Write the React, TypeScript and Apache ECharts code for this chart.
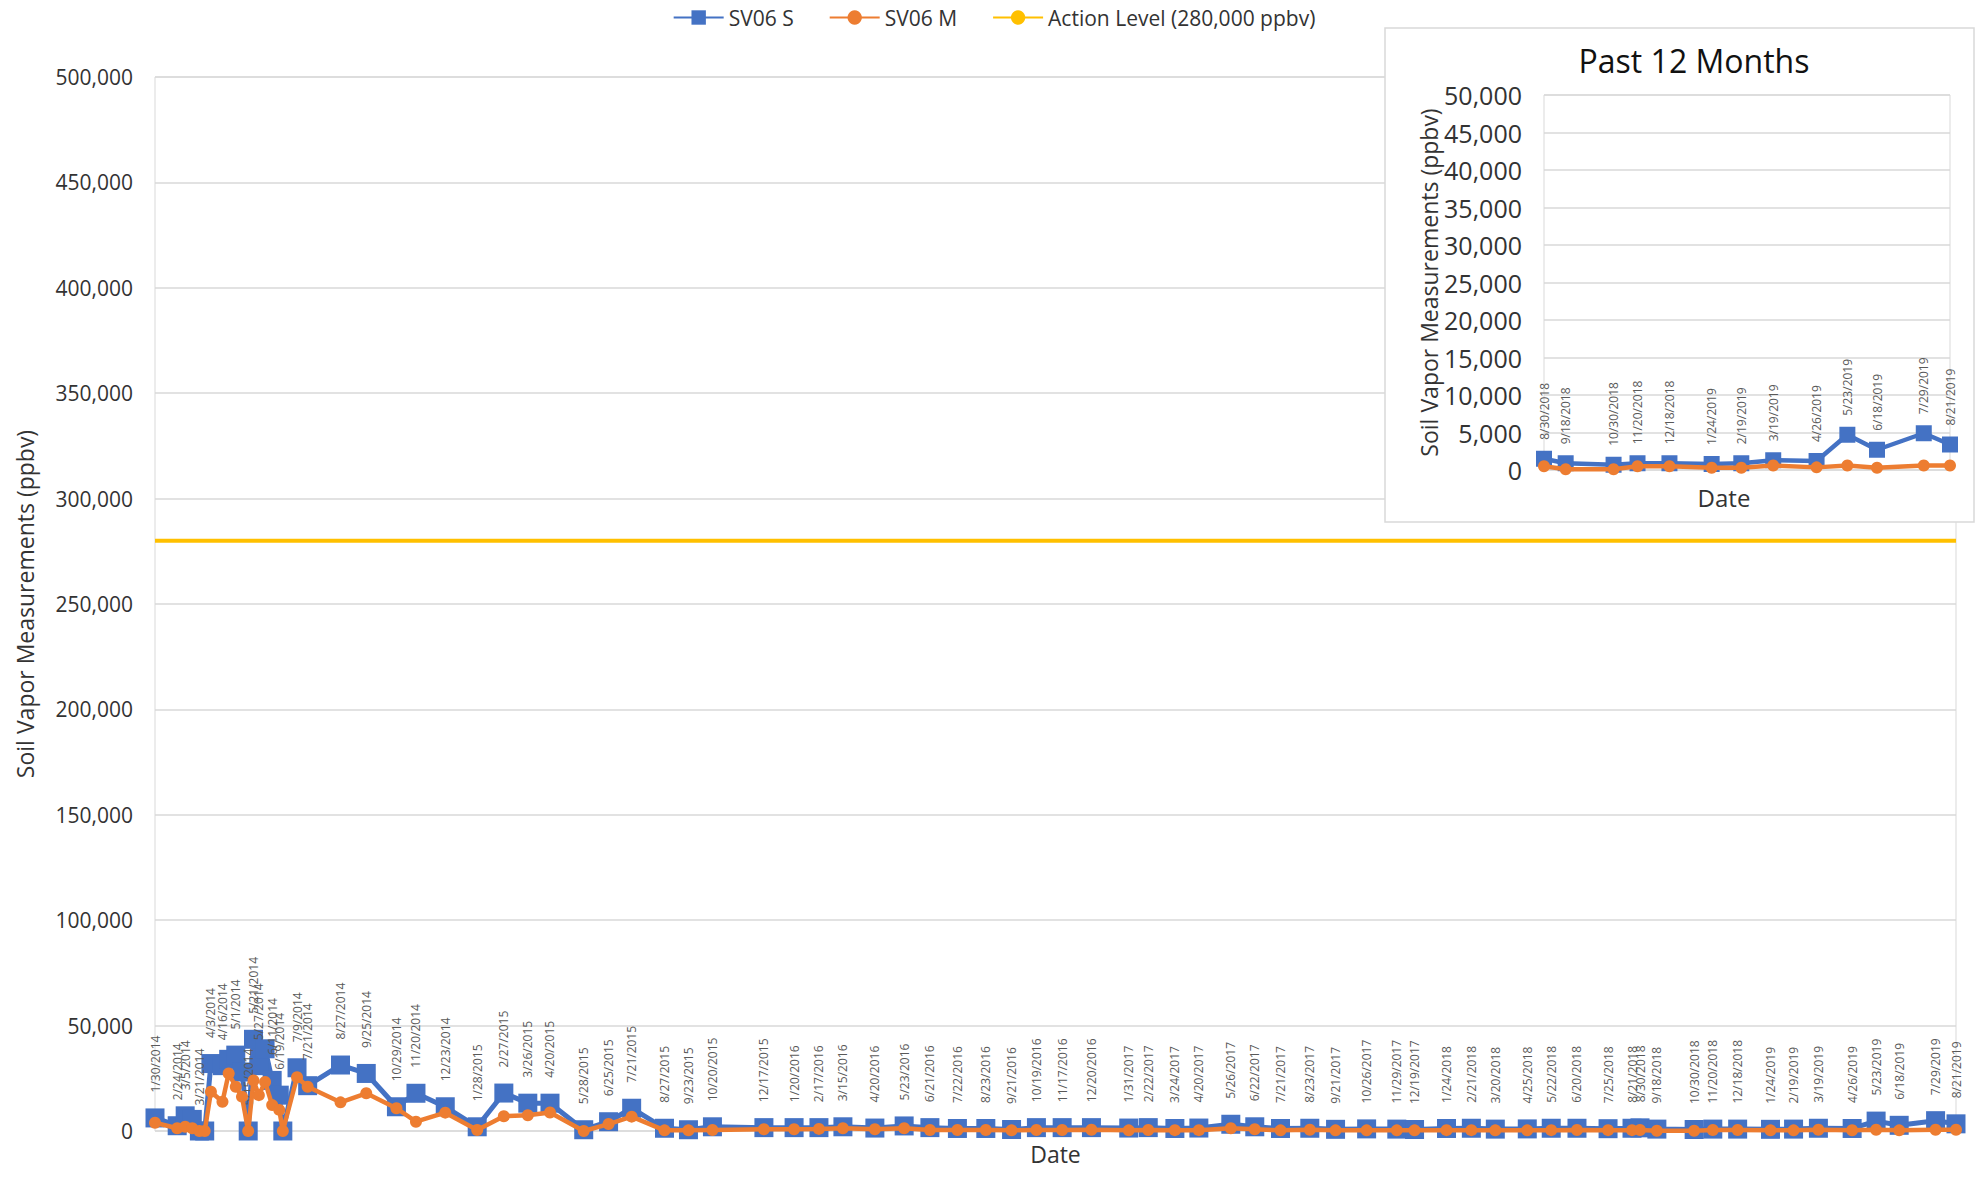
import React, { useEffect, useRef } from "react";
import * as echarts from "echarts";

const FONT = "'Open Sans', 'Noto Sans', sans-serif";

const dates = [
  "1/30/2014", "2/24/2014", "3/5/2014", "3/13/2014", "3/21/2014", "3/27/2014", "4/3/2014", "4/16/2014",
  "4/23/2014", "5/1/2014", "5/8/2014", "5/15/2014", "5/21/2014", "5/27/2014", "6/3/2014", "6/11/2014",
  "6/19/2014", "6/23/2014", "7/9/2014", "7/21/2014", "8/27/2014", "9/25/2014", "10/29/2014", "11/20/2014",
  "12/23/2014",
  "1/28/2015", "2/27/2015", "3/26/2015", "4/20/2015", "5/28/2015", "6/25/2015", "7/21/2015", "8/27/2015",
  "9/23/2015", "10/20/2015", "12/17/2015",
  "1/20/2016", "2/17/2016", "3/15/2016", "4/20/2016", "5/23/2016", "6/21/2016", "7/22/2016", "8/23/2016",
  "9/21/2016", "10/19/2016", "11/17/2016", "12/20/2016",
  "1/31/2017", "2/22/2017", "3/24/2017", "4/20/2017", "5/26/2017", "6/22/2017", "7/21/2017", "8/23/2017",
  "9/21/2017", "10/26/2017", "11/29/2017", "12/19/2017",
  "1/24/2018", "2/21/2018", "3/20/2018", "4/25/2018", "5/22/2018", "6/20/2018", "7/25/2018", "8/21/2018",
  "8/30/2018", "9/18/2018", "10/30/2018", "11/20/2018", "12/18/2018",
  "1/24/2019", "2/19/2019", "3/19/2019", "4/26/2019", "5/23/2019", "6/18/2019", "7/29/2019", "8/21/2019",
];

const sv06S = [
  6200, 2500, 7200, 5500, 0, 0, 32000, 31000,
  34000, 36000, 28000, 0, 43500, 31000, 39000, 24000,
  17000, 0, 30000, 21500, 31300, 27300, 11500, 17900,
  11500,
  2000, 18000, 13200, 13200, 600, 4400, 10800, 1300,
  600, 2000, 1600,
  1600, 1600, 2000, 1400, 2400, 1600, 1200, 1200,
  700, 1600, 1600, 1600,
  1400, 1600, 1200, 1400, 3200, 2000, 1200, 1300,
  800, 1000, 900, 700,
  1200, 1300, 900, 1000, 1300, 1300, 1100, 1300,
  1500, 900, 700, 900, 900,
  800, 900, 1300, 1200, 4700, 2700, 4900, 3400,
];

const sv06M = [
  3900, 1300, 2000, 1300, 0, 0, 18600, 13900,
  27300, 21000, 16300, 0, 24000, 17000, 23300, 12300,
  10000, 0, 25500, 21000, 13600, 17900, 10800, 4400,
  8700,
  500, 7000, 7500, 8800, 0, 3300, 6800, 300,
  300, 500, 800,
  800, 1000, 1300, 800, 1300, 500, 500, 500,
  300, 500, 500, 600,
  300, 500, 400, 400, 1300, 800, 300, 600,
  300, 300, 300, 300,
  400, 400, 300, 300, 400, 500, 400, 400,
  500, 100, 100, 500, 500,
  300, 300, 600, 350, 600, 300, 600, 600,
];

const unlabeledDates = ["3/13/2014", "3/27/2014", "4/23/2014", "5/8/2014", "6/3/2014", "6/23/2014"];
const actionLevel = 280000;
const actionLabel = "Action Level (280,000 ppbv)";
const mainYMax = 500000;
const mainYStep = 50000;
const insetYMax = 50000;
const insetYStep = 5000;
const insetStart = "8/30/2018";

function toTime(s: string): number {
  const [m, d, y] = s.split("/").map(Number);
  return Date.UTC(y, m - 1, d);
}

const BLUE = "#4472C4";
const ORANGE = "#ED7D31";
const GOLD = "#FFC000";
const GRID = "#d9d9d9";
const TXT = "#333333";
const LBL = "#595959";

export default function App() {
  const ref = useRef<HTMLDivElement>(null);

  useEffect(() => {
    if (!ref.current) return;
    const chart = echarts.init(ref.current, undefined, { renderer: "svg" });

    const times = dates.map(toTime);
    const tMin = times[0];
    const tMax = times[times.length - 1];
    const startIdx = dates.indexOf(insetStart);
    const insetDates = dates.slice(startIdx);
    const insetTimes = times.slice(startIdx);

    const fmt = (v: number) => v.toLocaleString("en-US");

    const mainLabel = {
      show: true,
      position: "top",
      distance: 16,
      rotate: 90,
      align: "left",
      verticalAlign: "middle",
      fontSize: 12,
      color: LBL,
      fontFamily: FONT,
      formatter: (p: any) => {
        const d = dates[p.dataIndex];
        return unlabeledDates.includes(d) ? "" : d;
      },
    };

    const insetLabel = {
      show: true,
      position: "top",
      distance: 11,
      rotate: 90,
      align: "left",
      verticalAlign: "middle",
      fontSize: 12,
      color: LBL,
      fontFamily: FONT,
      formatter: (p: any) => insetDates[p.dataIndex],
    };

    const option: any = {
      animation: false,
      backgroundColor: "#ffffff",
      textStyle: { fontFamily: FONT },
      legend: {
        data: ["SV06 S", "SV06 M", actionLabel],
        top: 2,
        left: "center",
        itemWidth: 50,
        itemHeight: 18,
        itemGap: 35,
        textStyle: { fontSize: 21, color: TXT, fontFamily: FONT },
      },
      grid: [
        {
          left: 155,
          right: 32,
          top: 77,
          bottom: 50,
          show: true,
          borderColor: GRID,
          borderWidth: 1,
          z: 0,
        },
        {
          left: 1544,
          top: 95,
          width: 406,
          height: 375,
          show: true,
          borderColor: GRID,
          borderWidth: 1,
          z: 10,
        },
      ],
      xAxis: [
        {
          type: "time",
          gridIndex: 0,
          min: tMin,
          max: tMax,
          axisLabel: { show: false },
          axisTick: { show: false },
          axisLine: { show: false },
          splitLine: { show: false },
          name: "Date",
          nameLocation: "middle",
          nameGap: 11,
          nameTextStyle: { fontSize: 23, color: TXT, fontFamily: FONT },
        },
        {
          type: "time",
          gridIndex: 1,
          min: insetTimes[0],
          max: insetTimes[insetTimes.length - 1],
          axisLabel: { show: false },
          axisTick: { show: false },
          axisLine: { show: false },
          splitLine: { show: false },
          z: 10,
        },
      ],
      yAxis: [
        {
          type: "value",
          gridIndex: 0,
          min: 0,
          max: mainYMax,
          interval: mainYStep,
          axisLine: { show: false },
          axisTick: { show: false },
          splitLine: { show: true, lineStyle: { color: GRID, width: 1.5 } },
          axisLabel: { fontSize: 21, color: TXT, margin: 22, fontFamily: FONT, formatter: fmt },
          name: "Soil Vapor Measurements (ppbv)",
          nameLocation: "middle",
          nameGap: 119,
          nameTextStyle: { fontSize: 23, color: TXT, fontFamily: FONT },
        },
        {
          type: "value",
          gridIndex: 1,
          min: 0,
          max: insetYMax,
          interval: insetYStep,
          axisLine: { show: false },
          axisTick: { show: false },
          splitLine: { show: true, lineStyle: { color: GRID, width: 1.5 } },
          axisLabel: { fontSize: 25, color: TXT, margin: 22, fontFamily: FONT, formatter: fmt },
          name: "Soil Vapor Measurements (ppbv)",
          nameLocation: "middle",
          nameGap: 99,
          nameTextStyle: { fontSize: 23, color: TXT, fontFamily: FONT },
          z: 10,
        },
      ],
      graphic: [
        {
          type: "rect",
          z: 5,
          shape: { x: 1385, y: 28, width: 589, height: 494 },
          style: { fill: "#ffffff", stroke: GRID, lineWidth: 1.5 },
        },
        {
          type: "text",
          z: 20,
          x: 1694,
          y: 60,
          style: {
            text: "Past 12 Months",
            textAlign: "center",
            textVerticalAlign: "middle",
            fontSize: 32,
            fontFamily: FONT,
            fill: "#111111",
          },
        },
        {
          type: "text",
          z: 20,
          x: 1724,
          y: 497,
          style: {
            text: "Date",
            textAlign: "center",
            textVerticalAlign: "middle",
            fontSize: 24,
            fontFamily: FONT,
            fill: TXT,
          },
        },
      ],
      series: [
        {
          name: actionLabel,
          type: "line",
          xAxisIndex: 0,
          yAxisIndex: 0,
          data: [
            [tMin, actionLevel],
            [tMax, actionLevel],
          ],
          symbol: "none",
          lineStyle: { color: GOLD, width: 4 },
          itemStyle: { color: GOLD },
          z: 2,
        },
        {
          name: "SV06 S",
          type: "line",
          xAxisIndex: 0,
          yAxisIndex: 0,
          data: times.map((t, i) => [t, sv06S[i]]),
          symbol: "rect",
          symbolSize: 19,
          lineStyle: { color: BLUE, width: 5 },
          itemStyle: { color: BLUE },
          label: mainLabel,
          z: 3,
        },
        {
          name: "SV06 M",
          type: "line",
          xAxisIndex: 0,
          yAxisIndex: 0,
          data: times.map((t, i) => [t, sv06M[i]]),
          symbol: "circle",
          symbolSize: 12,
          lineStyle: { color: ORANGE, width: 4.5 },
          itemStyle: { color: ORANGE },
          z: 4,
        },
        {
          name: "SV06 S",
          type: "line",
          xAxisIndex: 1,
          yAxisIndex: 1,
          data: insetTimes.map((t, i) => [t, sv06S[startIdx + i]]),
          symbol: "rect",
          symbolSize: 16,
          lineStyle: { color: BLUE, width: 4.5 },
          itemStyle: { color: BLUE },
          label: insetLabel,
          z: 12,
        },
        {
          name: "SV06 M",
          type: "line",
          xAxisIndex: 1,
          yAxisIndex: 1,
          data: insetTimes.map((t, i) => [t, sv06M[startIdx + i]]),
          symbol: "circle",
          symbolSize: 12,
          lineStyle: { color: ORANGE, width: 4.5 },
          itemStyle: { color: ORANGE },
          z: 13,
        },
      ],
    };

    chart.setOption(option);
    return () => chart.dispose();
  }, []);

  return (
    <div
      ref={ref}
      style={{ position: "fixed", left: 0, top: 0, width: 1988, height: 1181, background: "#fff" }}
    />
  );
}
